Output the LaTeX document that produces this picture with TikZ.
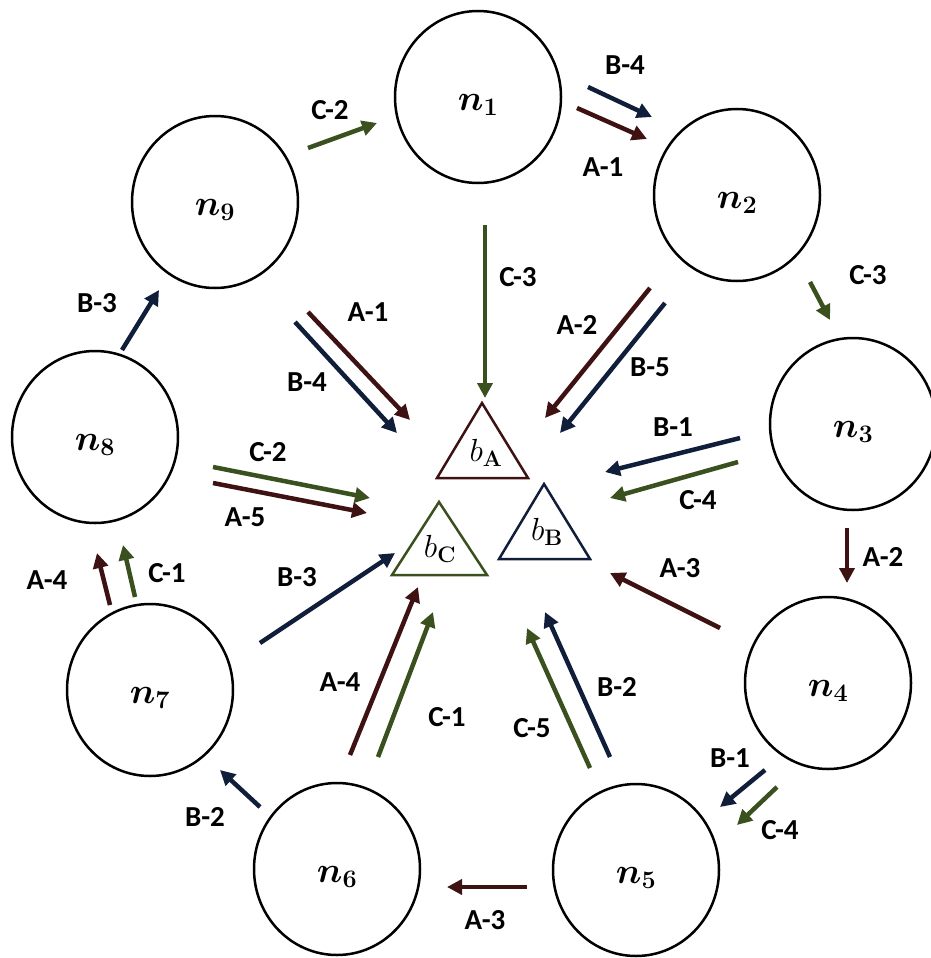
\RequirePackage{fix-cm}
\documentclass[tikz,border=0pt]{standalone}
\usepackage[no-math]{fontspec}
\setmainfont{Carlito}
\usepackage{amsmath}
\usetikzlibrary{arrows.meta,shapes.geometric}
\definecolor{colA}{RGB}{62,18,18}
\definecolor{colB}{RGB}{16,30,58}
\definecolor{colC}{RGB}{58,80,30}
\newcommand\flowarrow[6]{%
  \coordinate (#1s) at (#2);
  \coordinate (#1e) at (#3);
  \draw[#4] (#1s) -- (#1e);
  \node[elab] (#1l) at (#5) {#6};}
\begin{document}
\begin{tikzpicture}[x=1pt,y=-1pt,
  every node/.style={inner sep=0pt, outer sep=0pt},
  nd/.style={draw=black, line width=2.5pt, ellipse, minimum width=166pt, minimum height=172pt},
  nlab/.style={font=\fontsize{36}{42}\selectfont},
  blab/.style={font=\fontsize{32}{38}\selectfont},
  elab/.style={font=\bfseries\fontsize{29}{32}\selectfont},
  tip/.style={-{Triangle[length=15pt,width=15pt]}},
  fA/.style={draw=colA, line width=4.5pt, tip},
  fB/.style={draw=colB, line width=4.5pt, tip},
  fC/.style={draw=colC, line width=4.5pt, tip},
  tri/.style={line width=2.5pt, line join=miter}]
\useasboundingbox (0,0) rectangle (930,958);

% process nodes
\node[nd] (n1) at (478,97) {};
\node[nd] (n2) at (737,195) {};
\node[nd] (n3) at (853,424) {};
\node[nd] (n4) at (828,683) {};
\node[nd] (n5) at (636,870) {};
\node[nd] (n6) at (337,869) {};
\node[nd] (n7) at (150,690) {};
\node[nd] (n8) at (95,437) {};
\node[nd] (n9) at (215,202) {};
\foreach \i in {1,...,9}{
  \node[nlab] (t\i) at ([yshift=-8pt]n\i.center) {$\boldsymbol{n}_{\mathbf{\i}}$};
}

% base triangles
\coordinate (bAt) at (482,403); \coordinate (bAl) at (437,478); \coordinate (bAr) at (528,478);
\coordinate (bBt) at (544,484); \coordinate (bBl) at (499,559); \coordinate (bBr) at (590,559);
\coordinate (bCt) at (439,502); \coordinate (bCl) at (392,575); \coordinate (bCr) at (487,575);
\draw[tri, draw=colA] (bAt) -- (bAl) -- (bAr) -- cycle;
\draw[tri, draw=colB] (bBt) -- (bBl) -- (bBr) -- cycle;
\draw[tri, draw=colC] (bCt) -- (bCl) -- (bCr) -- cycle;
\node[blab] (bA) at (486,453) {$b_{\mathbf{A}}$};
\node[blab] (bB) at (547,532) {$b_{\mathbf{B}}$};
\node[blab] (bC) at (440,549) {$b_{\mathbf{C}}$};

% ring arrows
\flowarrow{r1}{308,148}{377,123}{fC}{330,110}{C-2}
\flowarrow{r2}{588,87}{652,117}{fB}{625,65}{B-4}
\flowarrow{r3}{577,108}{647,139}{fA}{603,167}{A-1}
\flowarrow{r4}{810,282}{830,320}{fC}{868,275}{C-3}
\flowarrow{r5}{847,528}{847,583}{fA}{883,557}{A-2}
\flowarrow{r6}{765,770}{720,807}{fB}{730,758}{B-1}
\flowarrow{r7}{777,787}{737,825}{fC}{780,830}{C-4}
\flowarrow{r8}{527,887}{447,887}{fA}{485,920}{A-3}
\flowarrow{r9}{260,807}{220,770}{fB}{205,817}{B-2}
\flowarrow{r10}{110,605}{97,553}{fA}{47,580}{A-4}
\flowarrow{r11}{135,597}{123,545}{fC}{167,573}{C-1}
\flowarrow{r12}{122,350}{159,290}{fB}{97,303}{B-3}

% arrows to the centre
\flowarrow{c1}{485,225}{485,398}{fC}{518,277}{C-3}
\flowarrow{c2}{308,312}{410,420}{fA}{368,312}{A-1}
\flowarrow{c3}{295,322}{397,433}{fB}{307,382}{B-4}
\flowarrow{c4}{650,288}{545,418}{fA}{577,325}{A-2}
\flowarrow{c5}{665,303}{560,433}{fB}{650,367}{B-5}
\flowarrow{c6}{740,438}{605,472}{fB}{673,427}{B-1}
\flowarrow{c7}{738,462}{610,498}{fC}{698,500}{C-4}
\flowarrow{c8}{213,467}{370,498}{fC}{268,452}{C-2}
\flowarrow{c9}{213,483}{367,513}{fA}{245,517}{A-5}
\flowarrow{c10}{260,643}{395,553}{fB}{297,577}{B-3}
\flowarrow{c11}{350,755}{418,587}{fA}{340,682}{A-4}
\flowarrow{c12}{378,757}{433,612}{fC}{447,717}{C-1}
\flowarrow{c13}{590,768}{527,628}{fC}{532,728}{C-5}
\flowarrow{c14}{610,757}{545,612}{fB}{617,687}{B-2}
\flowarrow{c15}{720,628}{610,573}{fA}{680,568}{A-3}
\end{tikzpicture}
\end{document}
